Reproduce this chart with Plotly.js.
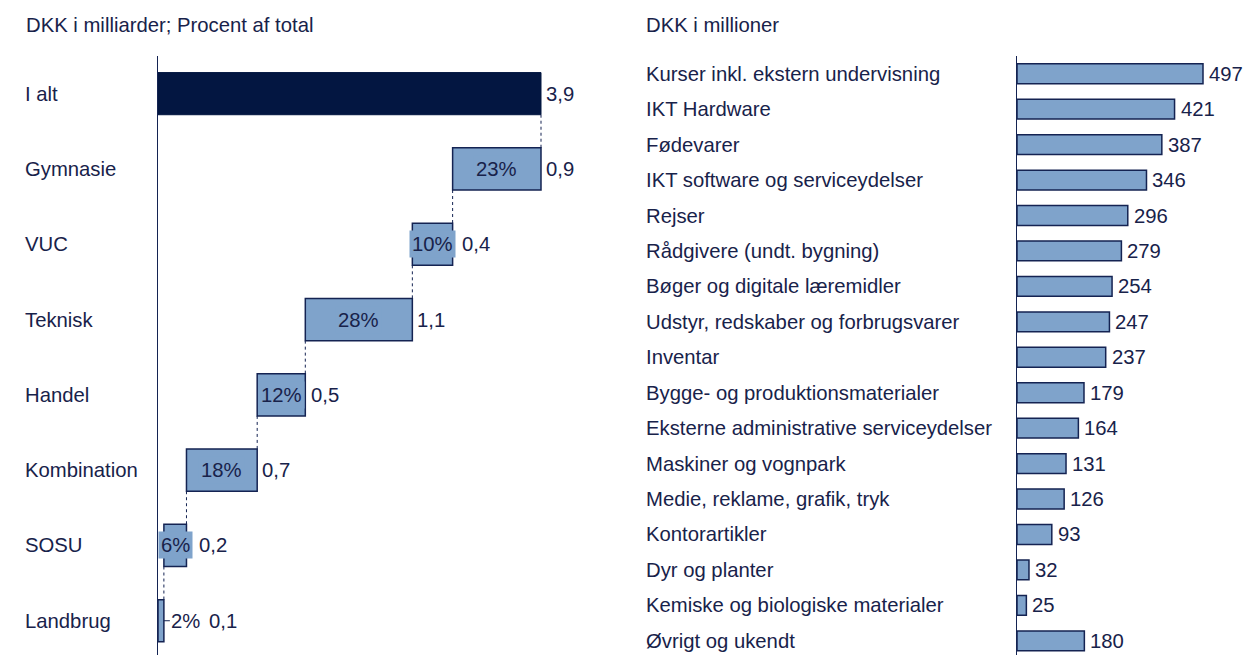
<!DOCTYPE html>
<html>
<head>
<meta charset="utf-8">
<script src="https://cdn.plot.ly/plotly-3.0.1.min.js"></script>
<style>html,body{margin:0;padding:0;background:#fff;}#chart{width:1245px;height:655px;}</style>
</head>
<body>
<div id="chart"></div>
<script>
// ---- Data ----
const leftTitle = 'DKK i milliarder; Procent af total';
const rightTitle = 'DKK i millioner';
const leftCategories = ['I alt','Gymnasie','VUC','Teknisk','Handel','Kombination','SOSU','Landbrug'];
const totalValue = 3.9;
const segmentValues = [0.90, 0.41, 1.09, 0.49, 0.72, 0.23, 0.06];
const segmentPercents = ['23%','10%','28%','12%','18%','6%','2%'];
const rightCategories = [
  'Kurser inkl. ekstern undervisning','IKT Hardware','Fødevarer','IKT software og serviceydelser',
  'Rejser','Rådgivere (undt. bygning)','Bøger og digitale læremidler','Udstyr, redskaber og forbrugsvarer',
  'Inventar','Bygge- og produktionsmaterialer','Eksterne administrative serviceydelser','Maskiner og vognpark',
  'Medie, reklame, grafik, tryk','Kontorartikler','Dyr og planter','Kemiske og biologiske materialer','Øvrigt og ukendt'
];
const rightValues = [497, 421, 387, 346, 296, 279, 254, 247, 237, 179, 164, 131, 126, 93, 32, 25, 180];

// ---- Styling ----
const W = 1245, H = 655;
const NAVY = '#142352';
const DARK = '#031641';
const FILL = '#7fa3cb';
const TXT = '#18224a';
const FONT = 'Liberation Sans, Arial, sans-serif';
const FS = 20.3;

const LX0 = 158, LX1 = 620;
const leftRangeMax = 3.9 * 462 / 383;
const pxPerUnit = (LX1 - LX0) / leftRangeMax;

const canvas = document.createElement('canvas');
const ctx = canvas.getContext('2d');
ctx.font = FS + 'px "Liberation Sans", Arial, sans-serif';
const textW = s => ctx.measureText(s).width;

// waterfall bases
const bases = [];
let run = totalValue;
segmentValues.forEach(v => { const b = run - v; bases.push(b); run = b; });
const segRows = segmentValues.map((v, i) => i + 1);

const fmt = v => v.toFixed(1).replace('.', ',');

const traces = [];
traces.push({
  type: 'bar', orientation: 'h', x: [totalValue], y: [0], base: [0],
  marker: {color: DARK, line: {color: DARK, width: 1}}, width: 0.56,
  xaxis: 'x', yaxis: 'y', hoverinfo: 'none'
});
traces.push({
  type: 'bar', orientation: 'h', x: segmentValues, y: segRows, base: bases,
  marker: {color: FILL, line: {color: NAVY, width: 1.5}}, width: 0.56,
  xaxis: 'x', yaxis: 'y', hoverinfo: 'none'
});
// connectors
const cx = [], cy = [];
segmentValues.forEach((v, i) => {
  const xe = bases[i] + v;
  cx.push(xe, xe, null); cy.push(i + 0.28, i + 0.72, null);
});
traces.push({
  type: 'scatter', mode: 'lines', x: cx, y: cy, line: {color: NAVY, width: 1, dash: 'dot'},
  xaxis: 'x', yaxis: 'y', hoverinfo: 'none', connectgaps: false
});
traces.push({
  type: 'bar', orientation: 'h', x: rightValues, y: rightValues.map((v, i) => i),
  marker: {color: FILL, line: {color: NAVY, width: 1.5}}, width: 0.56,
  xaxis: 'x2', yaxis: 'y2', hoverinfo: 'none'
});

const ann = [];
const shapes = [];
const font = {family: FONT, size: FS, color: TXT};
ann.push({xref: 'paper', yref: 'paper', x: 24 / W, y: 1 - 25 / H, xanchor: 'left', yanchor: 'middle', text: leftTitle, showarrow: false, font: font});
ann.push({xref: 'paper', yref: 'paper', x: 644 / W, y: 1 - 25 / H, xanchor: 'left', yanchor: 'middle', text: rightTitle, showarrow: false, font: font});
leftCategories.forEach((c, i) => {
  ann.push({xref: 'paper', yref: 'y', x: 23 / W, y: i, xanchor: 'left', yanchor: 'middle', text: c, showarrow: false, font: font});
});
ann.push({xref: 'x', yref: 'y', x: totalValue, y: 0, xanchor: 'left', xshift: 3, text: fmt(totalValue), showarrow: false, font: font});
segmentValues.forEach((v, i) => {
  const row = i + 1, end = bases[i] + v;
  const barW = v * pxPerUnit;
  if (v < 0.1) {
    shapes.push({type: 'line', xref: 'x', yref: 'y', xsizemode: 'pixel', xanchor: end, x0: 0, x1: 6, y0: row, y1: row,
                 line: {color: NAVY, width: 1}});
    ann.push({xref: 'x', yref: 'y', x: end, y: row, xanchor: 'left', xshift: 5, text: segmentPercents[i], showarrow: false, font: font});
    ann.push({xref: 'x', yref: 'y', x: end, y: row, xanchor: 'left', xshift: 43, text: fmt(v), showarrow: false, font: font});
  } else {
    const boxW = textW(segmentPercents[i]) + 8;
    const overflow = Math.max(0, (boxW - barW) / 2);
    ann.push({xref: 'x', yref: 'y', x: bases[i] + v / 2, y: row, xanchor: 'center', text: segmentPercents[i], showarrow: false, font: font, bgcolor: FILL, borderpad: 2});
    ann.push({xref: 'x', yref: 'y', x: end, y: row, xanchor: 'left', xshift: 3 + overflow, text: fmt(v), showarrow: false, font: font});
  }
});
rightCategories.forEach((c, i) => {
  ann.push({xref: 'paper', yref: 'y2', x: 644 / W, y: i, xanchor: 'left', yanchor: 'middle', text: c, showarrow: false, font: font});
  ann.push({xref: 'x2', yref: 'y2', x: rightValues[i], y: i, xanchor: 'left', xshift: 4, text: String(rightValues[i]), showarrow: false, font: font});
});

const topDom = (H - 56) / H;
const layout = {
  width: W, height: H, margin: {l: 0, r: 0, t: 0, b: 0},
  paper_bgcolor: '#fff', plot_bgcolor: 'rgba(0,0,0,0)', showlegend: false, barmode: 'overlay',
  xaxis: {domain: [LX0 / W, LX1 / W], range: [0, leftRangeMax], visible: false, fixedrange: true},
  yaxis: {domain: [0, topDom], range: [7.455, -0.5], anchor: 'x', showline: true, linecolor: NAVY, linewidth: 1,
          showticklabels: false, ticks: '', showgrid: false, zeroline: false},
  xaxis2: {domain: [1017 / W, 1], range: [0, 228 / (186 / 497)], visible: false, fixedrange: true},
  yaxis2: {domain: [0, topDom], range: [16.4, -0.5], anchor: 'x2', showline: true, linecolor: NAVY, linewidth: 1,
           showticklabels: false, ticks: '', showgrid: false, zeroline: false},
  annotations: ann,
  shapes: shapes
};
Plotly.newPlot('chart', traces, layout, {displayModeBar: false, staticPlot: true});
</script>
</body>
</html>
